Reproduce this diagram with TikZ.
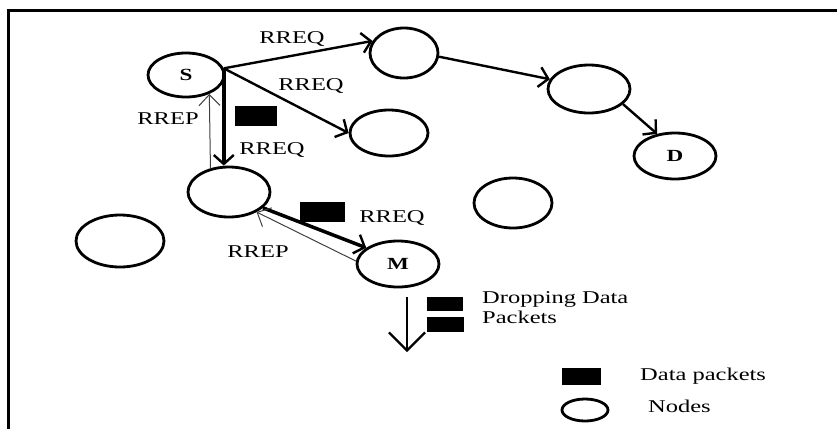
\documentclass[tikz,border=0pt]{standalone}
\usepackage{fontspec}
\setmainfont[FakeStretch=1.36]{Liberation Serif}
\usetikzlibrary{shapes.geometric,arrows.meta}
\begin{document}
\begin{tikzpicture}[x=1pt,y=-1pt,
  nd/.style={ellipse,draw,line width=2.8pt,inner sep=0pt,font=\fontsize{17}{18}\selectfont\bfseries},
  pkt/.style={fill=black,inner sep=0pt},
  lbl/.style={font=\fontsize{18}{20}\selectfont,inner sep=0pt},
  arr/.style={line width=2.4pt,-{Straight Barb[length=9pt,width=20pt,line width=2.4pt]}},
  rrep/.style={line width=1pt,draw=black!75,-{Straight Barb[length=11pt,width=21pt]}},
  droparr/.style={line width=2.2pt,-{Straight Barb[length=18pt,width=36pt]}}]
\useasboundingbox (0,0) rectangle (837,429);
% frame
\draw[line width=3pt] (8,429) -- (8,10) -- (837,10);
% nodes
\node[nd,minimum width=76pt,minimum height=44pt] (S) at (186,75) {S};
\node[nd,minimum width=68pt,minimum height=50pt] (N1) at (404,53) {};
\node[nd,minimum width=82pt,minimum height=48pt] (N2) at (589,89) {};
\node[nd,minimum width=82pt,minimum height=46pt] (D) at (675,156) {D};
\node[nd,minimum width=78pt,minimum height=46pt] (N3) at (389,133) {};
\node[nd,minimum width=82pt,minimum height=50pt] (N4) at (229,192) {};
\node[nd,minimum width=78pt,minimum height=50pt] (N5) at (513,203) {};
\node[nd,minimum width=88pt,minimum height=52pt] (N6) at (120,241) {};
\node[nd,minimum width=82pt,minimum height=46pt] (M) at (398,264) {M};
\node[nd,minimum width=46pt,minimum height=22pt] (Leg) at (585,410) {};
% packets
\node[pkt,minimum width=42pt,minimum height=20pt] (p1) at (256,116) {};
\node[pkt,minimum width=45pt,minimum height=20pt] (p2) at (322.5,212) {};
\node[pkt,minimum width=36pt,minimum height=14pt] (p3) at (445,304) {};
\node[pkt,minimum width=37pt,minimum height=15pt] (p4) at (445.5,324.5) {};
\node[pkt,minimum width=39pt,minimum height=17pt] (legp) at (581.5,376.5) {};
% connectors
\draw[arr] (S.10) -- (N1.159);
\draw[arr] (S.10) -- (N3.180);
\draw[arr,line width=4pt] (S.10) -- (S.10 |- N4.north);
\draw[rrep] (N4.128) -- (S.-39);
\draw[arr] (N1.-6) -- (N2.166);
\draw[arr] (N2.-24) -- (D.129);
\draw[arr,line width=3.5pt] (N4.-25) -- (M.153);
\draw[rrep] (M.176) -- (N4.-36);
\coordinate (dropA) at (407,297);
\coordinate (dropB) at (407,352);
\draw[droparr] (dropA) -- (dropB);
% labels
\node[lbl,anchor=base] (l1) at (292,43) {RREQ};
\node[lbl,anchor=base] (l2) at (311,90) {RREQ};
\node[lbl,anchor=base] (l3) at (168,124) {RREP};
\node[lbl,anchor=base] (l4) at (272,154) {RREQ};
\node[lbl,anchor=base] (l5) at (392,222) {RREQ};
\node[lbl,anchor=base] (l6) at (258,257) {RREP};
\node[lbl,anchor=north west,align=left] (l7) at (482,291) {Dropping Data\\Packets};
\node[lbl,anchor=base west] (l8) at (640,380) {Data packets};
\node[lbl,anchor=base west] (l9) at (648,412) {Nodes};
\end{tikzpicture}
\end{document}
